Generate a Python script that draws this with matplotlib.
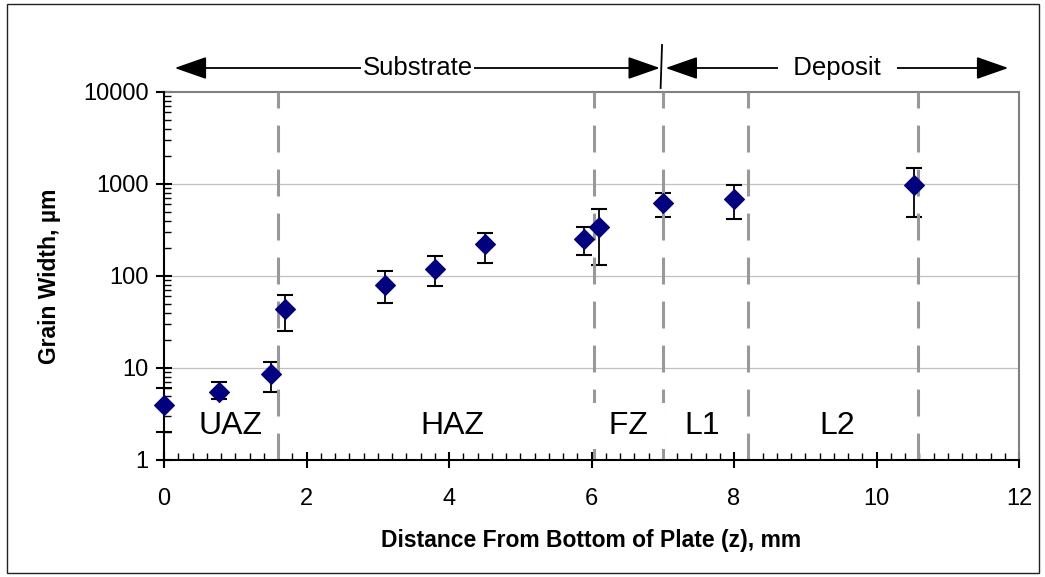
import numpy as np
import matplotlib
matplotlib.use("Agg")
import matplotlib.pyplot as plt
from matplotlib.patches import Rectangle
from matplotlib.ticker import LogLocator, MultipleLocator, NullFormatter, FixedLocator, FixedFormatter

# ---- data -------------------------------------------------------------
z_mm = [0.0, 0.77, 1.50, 1.70, 3.10, 3.80, 4.50, 5.90, 6.10, 7.00, 8.00, 10.52]
grain_width_um = [4.0, 5.5, 8.6, 44, 80, 120, 220, 255, 340, 620, 690, 970]
err_low_um = [2.0, 4.6, 5.5, 25.5, 51, 77, 138, 170, 132, 435, 415, 440]
err_high_um = [6.0, 7.0, 11.5, 62, 112, 163, 295, 340, 530, 790, 970, 1510]

zone_bounds_mm = [1.6, 6.03, 7.0, 8.2, 10.58]
zone_names = ["UAZ", "HAZ", "FZ", "L1", "L2"]
zone_label_x = [0.94, 4.05, 6.52, 7.56, 9.45]
zone_label_y = 2.35

x_ticks = [0, 2, 4, 6, 8, 10, 12]
y_ticks = [1, 10, 100, 1000, 10000]
y_tick_labels = ["1", "10", "100", "1000", "10000"]

region_spans = {"Substrate": (0.15, 6.96), "Deposit": (7.04, 11.85)}
region_label_x = {"Substrate": 3.56, "Deposit": 9.45}

# ---- figure -----------------------------------------------------------
plt.rcParams["font.family"] = ["Liberation Sans", "DejaVu Sans"]
W, H = 1045, 577
fig = plt.figure(figsize=(W / 100, H / 100), dpi=100)
fig.patches.append(Rectangle((7 / W, 4 / H), (1039 - 7) / W, (573 - 4) / H,
                             transform=fig.transFigure, fill=False,
                             edgecolor="#222222", linewidth=1.0))

ax = fig.add_axes([164 / W, (H - 460) / H, (1019 - 164) / W, (460 - 92) / H])
ax.set_yscale("log")
ax.set_xlim(0, 12)
ax.set_ylim(1, 10000)

# horizontal gridlines
for g in [10, 100, 1000]:
    ax.axhline(g, color="#c0c0c0", linewidth=0.9, zorder=1)

# error bars, boundaries, markers
w = np.array(grain_width_um, dtype=float)
yerr = np.vstack([w - np.array(err_low_um), np.array(err_high_um) - w])
eb = ax.errorbar(z_mm, w, yerr=yerr, fmt="none", ecolor="black",
                 elinewidth=1.3, capsize=5.5, capthick=1.5, zorder=3)
for artist in eb.lines[1] + eb.lines[2]:
    artist.set_clip_on(False)

for b in zone_bounds_mm:
    ax.plot([b, b], [1, 10000], color="#999999", linewidth=2.2,
            dashes=(8.8, 5.6), solid_capstyle="butt", dash_capstyle="butt",
            zorder=4)

ax.plot(z_mm, w, linestyle="none", marker="D", markersize=10.5,
        markerfacecolor="#000080", markeredgecolor="#000080",
        markeredgewidth=0.8, zorder=8, clip_on=False)

# zone labels
for name, xl in zip(zone_names, zone_label_x):
    label = " FZ " if name == "FZ" else name
    bbox = dict(facecolor="white", edgecolor="none", pad=6) if name == "FZ" else None
    ax.text(xl, zone_label_y, label, fontsize=23, ha="center", va="center",
            zorder=6, bbox=bbox)

# spines
for side in ["left", "bottom"]:
    ax.spines[side].set_color("black")
    ax.spines[side].set_linewidth(1.5)
    ax.spines[side].set_zorder(7)
for side in ["top", "right"]:
    ax.spines[side].set_color("#808080")
    ax.spines[side].set_linewidth(1.5)

# ticks
ax.xaxis.set_major_locator(FixedLocator(x_ticks))
ax.xaxis.set_minor_locator(MultipleLocator(0.2))
ax.yaxis.set_major_locator(FixedLocator(y_ticks))
ax.yaxis.set_major_formatter(FixedFormatter(y_tick_labels))
ax.yaxis.set_minor_locator(LogLocator(base=10, subs=np.arange(2, 10)))
ax.yaxis.set_minor_formatter(NullFormatter())
ax.tick_params(which="major", direction="inout", length=12, width=1.5,
               labelsize=17, color="black")
ax.tick_params(axis="x", which="major", pad=14)
ax.tick_params(axis="y", which="major", pad=5)
ax.tick_params(which="minor", direction="in", length=5, width=1.0, color="black")

ax.set_xlabel("Distance From Bottom of Plate (z), mm", fontsize=16.5,
              fontweight="bold", labelpad=14)
ax.set_ylabel("Grain Width, µm", fontsize=16.5, fontweight="bold", labelpad=16)

# region arrows above the plot
xt = ax.get_xaxis_transform()
arrow_y = (460 - 68) / (460 - 92)
for name, (x0, x1) in region_spans.items():
    ax.annotate("", xy=(x1, arrow_y), xytext=(x0, arrow_y), xycoords=xt,
                textcoords=xt, annotation_clip=False,
                arrowprops=dict(arrowstyle="<|-|>,head_length=1.0,head_width=0.35",
                                mutation_scale=20, color="black", linewidth=1.3,
                                shrinkA=0, shrinkB=0))
    label = name if name == "Substrate" else "  " + name + "  "
    ax.text(region_label_x[name], arrow_y, label, transform=xt, fontsize=18.5,
            ha="center", va="center", clip_on=False, zorder=8,
            bbox=dict(facecolor="white", edgecolor="none", pad=1))

# divider between substrate and deposit
ax.plot([6.99, 6.97], [(460 - 45) / (460 - 92), (460 - 88) / (460 - 92)],
        transform=xt, color="black", linewidth=1.3, clip_on=False)

fig.savefig("out.png", dpi=100)
